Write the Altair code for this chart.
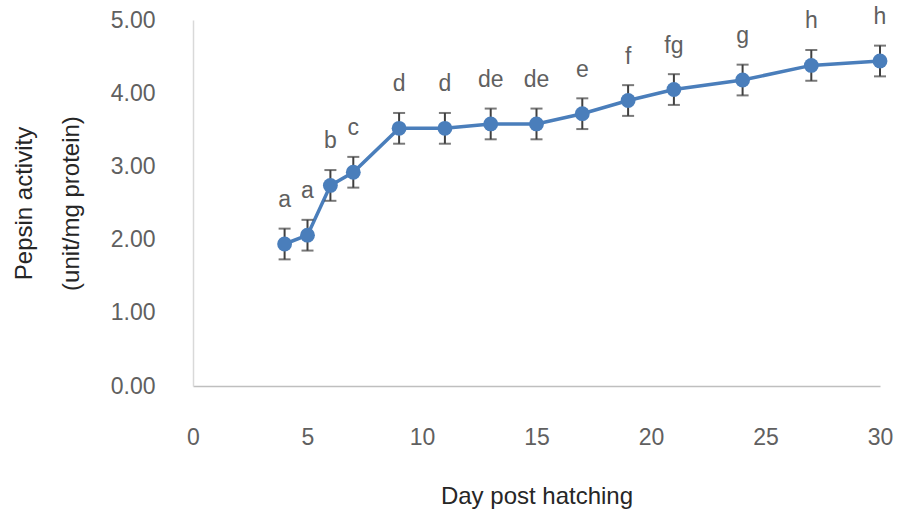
import altair as alt
import pandas as pd

days = [4, 5, 6, 7, 9, 11, 13, 15, 17, 19, 21, 24, 27, 30]
activity = [1.94, 2.06, 2.74, 2.92, 3.52, 3.52, 3.58, 3.58, 3.72, 3.90, 4.05, 4.18, 4.38, 4.44]
err = [0.21, 0.21, 0.21, 0.21, 0.21, 0.21, 0.21, 0.21, 0.21, 0.21, 0.21, 0.21, 0.21, 0.21]
letters = ["a", "a", "b", "c", "d", "d", "de", "de", "e", "f", "fg", "g", "h", "h"]

df = pd.DataFrame({"day": days, "act": activity, "err": err, "lab": letters})
df["lo"] = df["act"] - df["err"]
df["hi"] = df["act"] + df["err"]

FONT = "Liberation Sans"
BLUE = "#4a7ebb"
GRAY = "#606060"

x = alt.X("day:Q", scale=alt.Scale(domain=[0, 30], nice=False),
          axis=alt.Axis(values=[0, 5, 10, 15, 20, 25, 30], title="Day post hatching",
                        grid=False, ticks=False, domainColor="#bfbfbf", domainWidth=1.5,
                        labelFontSize=23, labelColor=GRAY, labelFont=FONT, labelPadding=40,
                        labelFlush=False,
                        titleFontSize=24, titleColor="#262626", titleFont=FONT,
                        titleFontWeight="normal", titlePadding=35))
y = alt.Y("act:Q", scale=alt.Scale(domain=[0, 5], nice=False),
          axis=alt.Axis(values=[0, 1, 2, 3, 4, 5], format=".2f",
                        title=["Pepsin activity", "(unit/mg protein)"],
                        grid=False, ticks=False, domainColor="#d9d9d9", domainWidth=1.5,
                        labelFontSize=23, labelColor=GRAY, labelFont=FONT, labelPadding=38,
                        titleFontSize=24, titleColor="#262626", titleFont=FONT,
                        titleFontWeight="normal", titleLineHeight=47, titlePadding=27))

base = alt.Chart(df)

rules = base.mark_rule(color="#404040", strokeWidth=2).encode(x=x, y=alt.Y("lo:Q"), y2="hi:Q")
caps_lo = base.mark_tick(color="#404040", thickness=2, size=12, orient="horizontal").encode(x="day:Q", y="lo:Q")
caps_hi = base.mark_tick(color="#404040", thickness=2, size=12, orient="horizontal").encode(x="day:Q", y="hi:Q")
line = base.mark_line(color=BLUE, strokeWidth=3.5).encode(x=x, y=y)
pts = base.mark_circle(color=BLUE, size=220, opacity=1).encode(x="day:Q", y="act:Q")
text = base.mark_text(dy=-44, fontSize=23, color=GRAY, font=FONT).encode(x="day:Q", y="act:Q", text="lab:N")

chart = alt.layer(line, rules, caps_lo, caps_hi, pts, text).properties(
    width=687, height=366,
    autosize=alt.AutoSizeParams(type="none"),
    padding={"left": 193, "top": 20, "right": 20, "bottom": 128},
    background="white",
).configure_view(stroke=None)

chart.save("out.html", embed_options={"renderer": "svg", "actions": False})
